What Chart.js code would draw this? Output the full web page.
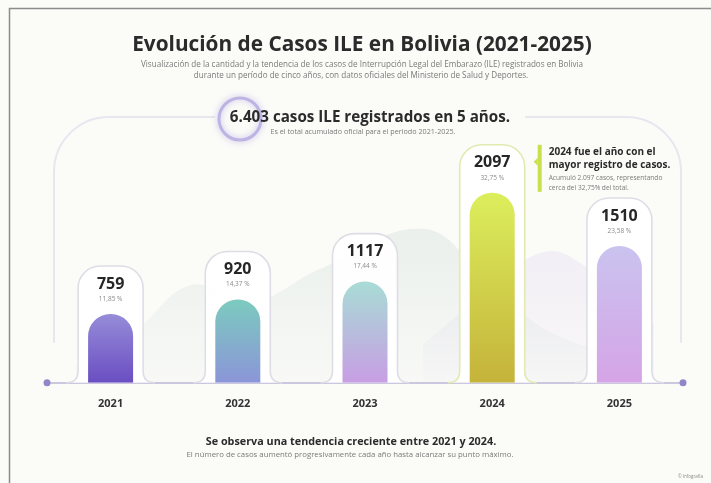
<!DOCTYPE html>
<html>
<head>
<meta charset="utf-8">
<script src="https://cdn.jsdelivr.net/npm/chart.js@4.4.1/dist/chart.umd.min.js"></script>
<style>
    html, body { margin: 0; padding: 0; background: #fbfbf8; }
    #wrap { position: relative; width: 711px; height: 483px; }
</style>
</head>
<body>
<div id="wrap"><canvas id="canvas"></canvas></div>
<script>
    // Datos
    var years = ['2021', '2022', '2023', '2024', '2025'];
    var casos = [759, 920, 1117, 2097, 1510];
    var porcentajes = ['11,85 %', '14,37 %', '17,44 %', '32,75 %', '23,58 %'];
    // cerros decorativos del fondo (x en posiciones de categoria)
    var cerrosVerdes = [
        { x: -0.5, y: 190 }, { x: 0, y: 560 }, { x: 0.5, y: 1080 }, { x: 1.0, y: 880 },
        { x: 1.6, y: 1250 }, { x: 2.5, y: 1700 }, { x: 3.05, y: 1150 }, { x: 3.6, y: 560 },
        { x: 4.5, y: 220 }
    ];
    var cerrosLilas = [
        { x: 2.5, y: 420 }, { x: 3.05, y: 1000 }, { x: 3.57, y: 1450 }, { x: 4.0, y: 1220 },
        { x: 4.32, y: 1000 }, { x: 4.5, y: 650 }
    ];

    var coloresArriba = ['#968cd8', '#7ccbbf', '#a8dcd6', '#dcee5c', '#cac3ef'];
    var coloresAbajo = ['#6a4ec2', '#8b95d8', '#c79ee3', '#c5b33a', '#d5a4e6'];
    var FONT = "'Open Sans', 'Noto Sans', sans-serif";

    function barGradient(context) {
        var chart = context.chart;
        var area = chart.chartArea;
        var i = context.dataIndex || 0;
        if (!area) return coloresArriba[i];
        var top = chart.scales.y.getPixelForValue(casos[i]);
        var g = chart.ctx.createLinearGradient(0, top, 0, area.bottom);
        g.addColorStop(0, coloresArriba[i]);
        g.addColorStop(1, coloresAbajo[i]);
        return g;
    }

    function cerroGradient(r, g, b) {
        return function (context) {
            var area = context.chart.chartArea;
            if (!area) return 'rgba(' + r + ',' + g + ',' + b + ',0.15)';
            var grd = context.chart.ctx.createLinearGradient(0, area.top + 60, 0, area.bottom);
            grd.addColorStop(0, 'rgba(' + r + ',' + g + ',' + b + ',0.26)');
            grd.addColorStop(1, 'rgba(' + r + ',' + g + ',' + b + ',0.04)');
            return grd;
        };
    }

    function text(ctx, str, x, y, size, weight, color, align) {
        ctx.font = (weight || 'normal') + ' ' + size + 'px ' + FONT;
        ctx.fillStyle = color;
        ctx.textAlign = align || 'center';
        ctx.textBaseline = 'middle';
        ctx.fillText(str, x, y);
    }

    // Fondo, marco y arco
    var fondoPlugin = {
        id: 'fondo',
        beforeDraw: function (chart) {
            var ctx = chart.ctx, a = chart.chartArea;
            ctx.save();
            ctx.fillStyle = '#fbfbf8';
            ctx.fillRect(0, 0, chart.width, chart.height);
            ctx.strokeStyle = '#8c8c8c';
            ctx.lineWidth = 1.5;
            ctx.beginPath();
            ctx.moveTo(9.5, chart.height);
            ctx.lineTo(9.5, 8.5);
            ctx.lineTo(chart.width, 8.5);
            ctx.stroke();

            var l = a.left + 7, r = a.right - 2, t = 117, rad = 55, b = a.bottom - 40;
            ctx.strokeStyle = '#e8e6ef';
            ctx.lineWidth = 2;
            ctx.beginPath();
            ctx.moveTo(l, b);
            ctx.lineTo(l, t + rad);
            ctx.arcTo(l, t, l + rad, t, rad);
            ctx.lineTo(r - rad, t);
            ctx.arcTo(r, t, r, t + rad, rad);
            ctx.lineTo(r, b);
            ctx.stroke();
            ctx.restore();
        }
    };

    // Contenedores blancos detras de cada barra
    var contenedorPlugin = {
        id: 'contenedor',
        beforeDatasetDraw: function (chart, args) {
            if (args.index !== 0) return;
            var ctx = chart.ctx;
            var meta = chart.getDatasetMeta(0);
            ctx.save();
            meta.data.forEach(function (el, i) {
                var hw = el.width / 2 + 10, top = el.y - 48, r = 22, base = el.base, fl = 12;
                ctx.beginPath();
                ctx.moveTo(el.x - hw - fl, base);
                ctx.quadraticCurveTo(el.x - hw, base, el.x - hw, base - fl);
                ctx.lineTo(el.x - hw, top + r);
                ctx.arcTo(el.x - hw, top, el.x - hw + r, top, r);
                ctx.lineTo(el.x + hw - r, top);
                ctx.arcTo(el.x + hw, top, el.x + hw, top + r, r);
                ctx.lineTo(el.x + hw, base - fl);
                ctx.quadraticCurveTo(el.x + hw, base, el.x + hw + fl, base);
                ctx.fillStyle = 'rgba(255,255,255,0.92)';
                ctx.fill();
                ctx.strokeStyle = i === 3 ? '#e2eab0' : '#dedde6';
                ctx.lineWidth = 1.6;
                ctx.stroke();
            });
            ctx.restore();
        }
    };

    // Textos
    var textosPlugin = {
        id: 'textos',
        afterDraw: function (chart) {
            var ctx = chart.ctx, a = chart.chartArea;
            var meta = chart.getDatasetMeta(0);
            ctx.save();

            // valores y porcentajes
            meta.data.forEach(function (el, i) {
                text(ctx, String(casos[i]), el.x, el.y - 30, 16, 'bold', '#262626');
                text(ctx, porcentajes[i], el.x, el.y - 15, 6.5, 'normal', '#8a8a8a');
            });

            // puntos del eje
            ctx.fillStyle = '#8f87c9';
            [a.left, a.right].forEach(function (x) {
                ctx.beginPath();
                ctx.arc(x, a.bottom, 3.5, 0, Math.PI * 2);
                ctx.fill();
            });

            var cx = 362;
            text(ctx, 'Evolución de Casos ILE en Bolivia (2021-2025)', cx, 45, 20.8, 'bold', '#2b2b2b');
            text(ctx, 'Visualización de la cantidad y la tendencia de los casos de Interrupción Legal del Embarazo (ILE) registrados en Bolivia', cx, 65, 8.1, 'normal', '#7a7a7a');
            text(ctx, 'durante un período de cinco años, con datos oficiales del Ministerio de Salud y Deportes.', 361, 76, 8.1, 'normal', '#7a7a7a');

            // titular del total
            ctx.fillStyle = '#fbfbf8';
            ctx.fillRect(215, 106, 310, 22);
            ctx.save();
            ctx.shadowColor = 'rgba(150,135,215,0.55)';
            ctx.shadowBlur = 6;
            ctx.strokeStyle = '#bdb4e4';
            ctx.lineWidth = 3;
            ctx.beginPath();
            ctx.arc(240, 119, 21, 0, Math.PI * 2);
            ctx.stroke();
            ctx.restore();
            text(ctx, '6.403 casos ILE registrados en 5 años.', 370, 118, 15.2, 'bold', '#2b2b2b');
            text(ctx, 'Es el total acumulado oficial para el periodo 2021-2025.', 363, 132, 7.2, 'normal', '#7a7a7a');

            // nota 2024
            var e4 = meta.data[3];
            var nx = e4.x + e4.width / 2 + 23, ny = e4.y - 48;
            ctx.fillStyle = '#c9df4c';
            ctx.fillRect(nx, ny, 4, 47);
            ctx.beginPath();
            ctx.moveTo(nx, ny + 13);
            ctx.lineTo(nx - 4, ny + 17);
            ctx.lineTo(nx, ny + 21);
            ctx.fill();
            text(ctx, '2024 fue el año con el', nx + 11, ny + 7, 10, 'bold', '#2b2b2b', 'left');
            text(ctx, 'mayor registro de casos.', nx + 11, ny + 20, 10, 'bold', '#2b2b2b', 'left');
            text(ctx, 'Acumuló 2.097 casos, representando', nx + 11, ny + 33, 6.6, 'normal', '#7a7a7a', 'left');
            text(ctx, 'cerca del 32,75% del total.', nx + 11, ny + 43, 6.6, 'normal', '#7a7a7a', 'left');

            // conclusion
            text(ctx, 'Se observa una tendencia creciente entre 2021 y 2024.', 351, 442, 10.8, 'bold', '#2b2b2b');
            text(ctx, 'El número de casos aumentó progresivamente cada año hasta alcanzar su punto máximo.', 350, 455, 7.8, 'normal', '#7a7a7a');
            text(ctx, '© Infografía', 703, 477, 4.5, 'normal', '#8a8a8a', 'right');
            ctx.restore();
        }
    };

    var ctx = document.getElementById('canvas').getContext('2d');
    window.myChart = new Chart(ctx, {
        type: 'bar',
        data: {
            labels: years,
            datasets: [{
                label: 'Casos ILE',
                data: casos,
                backgroundColor: barGradient,
                grouped: false,
                maxBarThickness: 45,
                borderRadius: { topLeft: 22, topRight: 22, bottomLeft: 0, bottomRight: 0 },
                borderSkipped: false,
                order: 1
            }, {
                type: 'line',
                label: 'fondo verde',
                data: cerrosVerdes,
                xAxisID: 'xBg',
                fill: 'origin',
                backgroundColor: cerroGradient(175, 200, 190),
                borderWidth: 0,
                pointRadius: 0,
                tension: 0.4,
                order: 3
            }, {
                type: 'line',
                label: 'fondo lila',
                data: cerrosLilas,
                xAxisID: 'xBg',
                fill: 'origin',
                backgroundColor: cerroGradient(205, 185, 235),
                borderWidth: 0,
                pointRadius: 0,
                tension: 0.4,
                order: 2
            }]
        },
        options: {
            responsive: true,
            maintainAspectRatio: false,
            animation: false,
            layout: { padding: { left: 47, right: 28, top: 140, bottom: 59 } },
            plugins: {
                legend: { display: false },
                tooltip: { enabled: false },
                title: { display: false }
            },
            scales: {
                x: {
                    grid: { display: false, drawTicks: false },
                    border: { display: true, color: '#cbc7de', width: 2 },
                    ticks: {
                        padding: 14,
                        color: '#333333',
                        font: { family: FONT, weight: 'bold', size: 11 }
                    }
                },
                xBg: { type: 'linear', display: false, min: -0.5, max: 4.5 },
                y: { display: false, min: 0, max: 2680 }
            }
        },
        plugins: [fondoPlugin, contenedorPlugin, textosPlugin]
    });
</script>
</body>
</html>
